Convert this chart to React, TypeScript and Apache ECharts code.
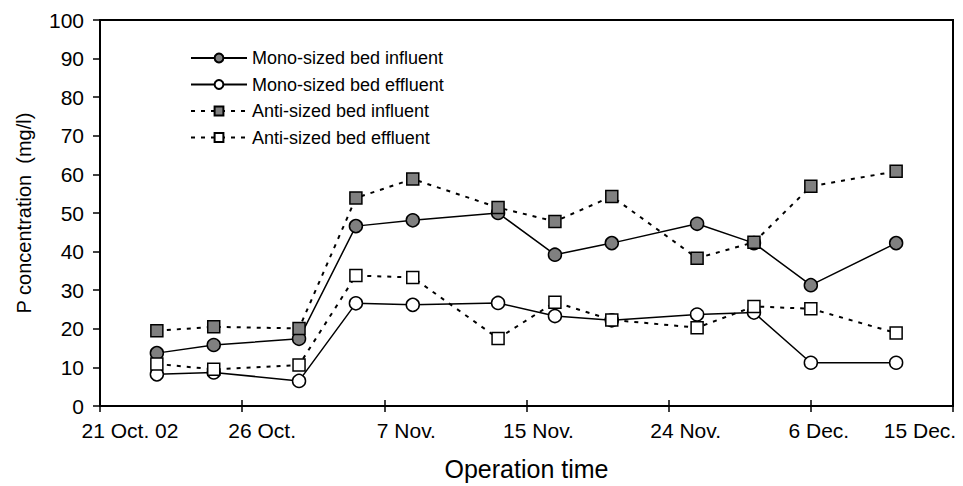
import React, { useEffect, useRef } from "react";
import * as echarts from "echarts";

// x positions of sampling points (axis units; ticks every 5 units)
const sampleX = [2, 4, 7, 9, 11, 14, 16, 18, 21, 23, 25, 28];
const monoInfluent = [13.7, 15.8, 17.4, 46.6, 48.1, 50.0, 39.2, 42.2, 47.2, 42.2, 31.3, 42.2];
const monoEffluent = [8.2, 8.7, 6.5, 26.6, 26.2, 26.7, 23.3, 22.2, 23.7, 24.2, 11.2, 11.2];
const antiInfluent = [19.5, 20.5, 20.1, 53.9, 58.8, 51.4, 47.8, 54.3, 38.3, 42.4, 56.9, 60.8];
const antiEffluent = [10.9, 9.5, 10.6, 33.8, 33.3, 17.5, 26.9, 22.3, 20.3, 25.8, 25.2, 18.9];
const xTickLabels = ["21 Oct. 02", "26 Oct.", "7 Nov.", "15 Nov.", "24 Nov.", "6 Dec.", "15 Dec."];
const seriesNames = [
  "Mono-sized bed influent",
  "Mono-sized bed effluent",
  "Anti-sized bed influent",
  "Anti-sized bed effluent",
];

// horizontal shift (px) of each date label relative to its tick (style)
const labelShift = [30, 20, 22, 12, 17, 8, -33];

const FONT = "'Liberation Sans', Arial, sans-serif";

const pairs = (ys: number[]) => sampleX.map((x, i) => [x, ys[i]]);

export default function App() {
  const ref = useRef<HTMLDivElement>(null);
  useEffect(() => {
    if (!ref.current) return;
    const chart = echarts.init(ref.current, undefined, { renderer: "svg" });
    const rich: Record<string, any> = {};
    labelShift.forEach((d, i) => {
      rich["s" + i] = {
        fontSize: 21,
        fontFamily: FONT,
        color: "#000",
        padding: d >= 0 ? [0, 0, 0, 2 * d] : [0, -2 * d, 0, 0],
      };
    });
    const mk = (name: string, ys: number[], symbol: string, fill: string, dashed: boolean) => ({
      name,
      type: "line",
      data: pairs(ys),
      symbol,
      symbolSize: symbol === "circle" ? 13 : 12,
      lineStyle: { color: "#000", width: dashed ? 2 : 1.5, type: dashed ? [4, 6] : "solid" },
      itemStyle: { color: fill, borderColor: "#000", borderWidth: 1.5 },
      emphasis: { disabled: true },
    });
    chart.setOption({
      animation: false,
      backgroundColor: "#fff",
      textStyle: { fontFamily: FONT },
      grid: {
        left: 100,
        right: 10,
        top: 20,
        bottom: 77,
        show: true,
        borderColor: "#000",
        borderWidth: 2,
        backgroundColor: "transparent",
      },
      legend: {
        orient: "vertical",
        left: 190,
        top: 49,
        padding: 0,
        itemWidth: 56,
        itemHeight: 11,
        itemGap: 8.5,
        textStyle: { fontSize: 18, lineHeight: 18, color: "#000", fontFamily: FONT },
        data: seriesNames,
      },
      xAxis: [
        {
          type: "value",
          min: 0,
          max: 30,
          interval: 5,
          position: "bottom",
          name: "Operation time",
          nameLocation: "middle",
          nameGap: 50,
          nameTextStyle: { fontSize: 25, color: "#000", fontFamily: FONT },
          axisLine: { show: true, lineStyle: { color: "#000", width: 2 } },
          axisTick: { show: true, inside: false, length: 6, lineStyle: { color: "#000", width: 1.5 } },
          axisLabel: {
            margin: 14,
            fontSize: 21,
            color: "#000",
            formatter: (v: number) => {
              const i = Math.round(v / 5);
              return "{s" + i + "|" + xTickLabels[i] + "}";
            },
            rich,
          },
          splitLine: { show: false },
        },
        {
          type: "value",
          min: 0,
          max: 30,
          interval: 5,
          position: "bottom",
          axisLine: { show: false },
          axisTick: { show: true, inside: true, length: 6, lineStyle: { color: "#000", width: 1.5 } },
          axisLabel: { show: false },
          splitLine: { show: false },
        },
      ],
      yAxis: {
        type: "value",
        min: 0,
        max: 100,
        interval: 10,
        name: "P concentration  (mg/l)",
        nameLocation: "middle",
        nameGap: 66,
        nameTextStyle: { fontSize: 20, color: "#000", fontFamily: FONT },
        axisLine: { show: true, lineStyle: { color: "#000", width: 2 } },
        axisTick: { show: true, inside: false, length: 7, lineStyle: { color: "#000", width: 1.5 } },
        axisLabel: { margin: 16, fontSize: 21, color: "#000", fontFamily: FONT },
        splitLine: { show: false },
      },
      series: [
        mk(seriesNames[0], monoInfluent, "circle", "#808080", false),
        mk(seriesNames[1], monoEffluent, "circle", "#fff", false),
        mk(seriesNames[2], antiInfluent, "rect", "#808080", true),
        mk(seriesNames[3], antiEffluent, "rect", "#fff", true),
      ],
    });
    return () => chart.dispose();
  }, []);
  return (
    <div
      ref={ref}
      style={{ position: "fixed", left: 0, top: 0, width: 963, height: 486, background: "#fff" }}
    />
  );
}
